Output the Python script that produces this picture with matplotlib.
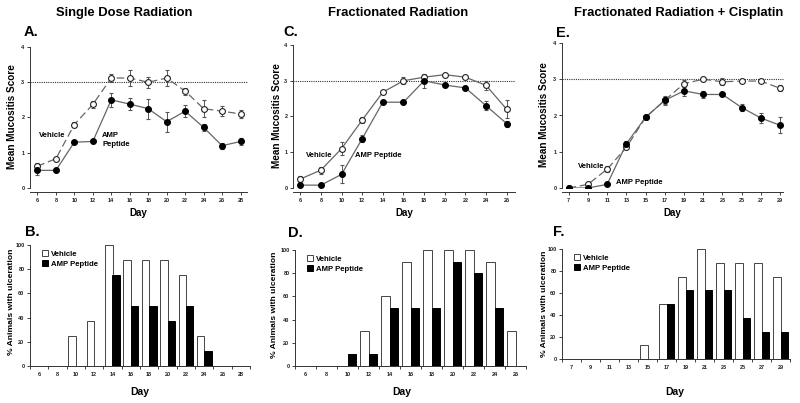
import matplotlib
matplotlib.use("Agg")
import matplotlib.pyplot as plt
import numpy as np

plt.rcParams['font.family'] = ['Liberation Sans', 'DejaVu Sans']
plt.rcParams['font.weight'] = 'bold'

# ---- data ----
days_a = [6, 8, 10, 12, 14, 16, 18, 20, 22, 24, 26, 28]
veh_a = [0.62, 0.83, 1.80, 2.37, 3.12, 3.12, 3.00, 3.12, 2.75, 2.25, 2.18, 2.10]
veh_a_err = [0.10, 0.05, 0.08, 0.10, 0.12, 0.22, 0.15, 0.22, 0.10, 0.25, 0.15, 0.12]
amp_a = [0.50, 0.50, 1.30, 1.32, 2.50, 2.38, 2.25, 1.88, 2.18, 1.72, 1.20, 1.32]
amp_a_err = [0.12, 0.05, 0.03, 0.03, 0.20, 0.18, 0.28, 0.28, 0.18, 0.10, 0.08, 0.10]

days_c = [6, 8, 10, 12, 14, 16, 18, 20, 22, 24, 26]
veh_c = [0.25, 0.50, 1.10, 1.90, 2.68, 3.00, 3.10, 3.17, 3.10, 2.87, 2.20]
veh_c_err = [0.08, 0.10, 0.18, 0.08, 0.05, 0.10, 0.05, 0.05, 0.03, 0.12, 0.25]
amp_c = [0.08, 0.08, 0.38, 1.38, 2.40, 2.40, 3.00, 2.88, 2.80, 2.30, 1.80]
amp_c_err = [0.03, 0.03, 0.25, 0.10, 0.05, 0.05, 0.20, 0.05, 0.05, 0.12, 0.08]

days_e = [7, 9, 11, 13, 15, 17, 19, 21, 23, 25, 27, 29]
veh_e = [0.00, 0.10, 0.52, 1.12, 1.95, 2.42, 2.88, 3.00, 2.93, 2.95, 2.95, 2.75]
veh_e_err = [0.02, 0.03, 0.08, 0.05, 0.03, 0.12, 0.10, 0.03, 0.10, 0.03, 0.03, 0.08]
amp_e = [0.00, 0.00, 0.10, 1.22, 1.95, 2.42, 2.68, 2.58, 2.58, 2.22, 1.93, 1.73]
amp_e_err = [0.00, 0.00, 0.02, 0.08, 0.03, 0.10, 0.15, 0.10, 0.05, 0.10, 0.15, 0.22]

ulc_veh_b = [0, 0, 25, 37.5, 100, 87.5, 87.5, 87.5, 75, 25, 0, 0]
ulc_amp_b = [0, 0, 0, 0, 75, 50, 50, 37.5, 50, 12.5, 0, 0]

ulc_veh_d = [0, 0, 0, 30, 60, 90, 100, 100, 100, 90, 30]
ulc_amp_d = [0, 0, 10, 10, 50, 50, 50, 90, 80, 50, 0]

ulc_veh_f = [0, 0, 0, 0, 12.5, 50, 75, 100, 87.5, 87.5, 87.5, 75]
ulc_amp_f = [0, 0, 0, 0, 0, 50, 62.5, 62.5, 62.5, 37.5, 25, 25]

titles = ["Single Dose Radiation", "Fractionated Radiation",
          "Fractionated Radiation + Cisplatin"]

W, H = 800, 403
fig = plt.figure(figsize=(W / 100, H / 100), dpi=100)
fig.set_facecolor('white')


def px_axes(left, top, right, bottom):
    return fig.add_axes([left / W, 1 - bottom / H, (right - left) / W, (bottom - top) / H])


def ylabel_px(x, y, s, size):
    fig.text(x / W, 1 - y / H, s, fontsize=size, fontweight='bold', rotation=90,
             ha='center', va='center')


def style(ax):
    for s in ['top', 'right']:
        ax.spines[s].set_visible(False)
    for s in ['left', 'bottom']:
        ax.spines[s].set_linewidth(0.7)
        ax.spines[s].set_color('#333333')
    ax.tick_params(labelsize=4, length=2, width=0.6, pad=2, colors='#222222')


def line_panel(ax, days, veh, veh_err, amp, amp_err, xlim, veh_ls):
    style(ax)
    ax.spines['bottom'].set_position(('outward', 3))
    ax.axhline(3.0, color='#333333', lw=0.8, ls=(0, (1, 1)), clip_on=False)
    ax.errorbar(days, veh, yerr=veh_err, color='#666666', ls=veh_ls, lw=0.9,
                marker='o', ms=4.2, mfc='white', mec='#222222', mew=0.8,
                ecolor='#555555', elinewidth=0.7, capsize=1.5, zorder=3)
    ax.errorbar(days, amp, yerr=amp_err, color='#666666', ls='-', lw=0.9,
                marker='o', ms=4.2, mfc='black', mec='black', mew=0.8,
                ecolor='#555555', elinewidth=0.7, capsize=1.5, zorder=3)
    ax.set_xlim(*xlim)
    ax.set_ylim(0, 4)
    ax.set_yticks([0, 1, 2, 3, 4])
    ax.set_xticks(days)
    ax.set_xlabel("Day", fontsize=7, fontweight='bold', labelpad=4)


def bar_panel(ax, centers, veh, amp, xlim):
    style(ax)
    w = 0.8
    c = np.array(centers)
    ax.bar(c - w / 2, veh, width=w, color='white', edgecolor='#444444', lw=0.7,
           label='Vehicle')
    ax.bar(c + w / 2, amp, width=w, color='black', edgecolor='black', lw=0.7,
           label='AMP Peptide')
    ax.set_xlim(*xlim)
    ax.set_ylim(0, 100)
    ax.set_yticks([0, 20, 40, 60, 80, 100])
    ax.set_xticks(np.arange(xlim[0], xlim[1] + 0.1, 2))
    ax.set_xticklabels([])
    ax.set_xticks(centers, minor=True)
    ax.set_xticklabels([str(d) for d in centers], minor=True)
    ax.tick_params(axis='x', which='minor', length=0, labelsize=4, pad=4, colors='#222222')
    leg = ax.legend(loc='upper left', bbox_to_anchor=(0.03, 1.0), frameon=False,
                    fontsize=5.6, handlelength=0.75, handleheight=0.75,
                    handletextpad=0.4, labelspacing=0.25, borderaxespad=0.3)
    for t in leg.get_texts():
        t.set_fontweight('bold')


# ---- top row ----
ax_a = px_axes(30, 47, 247, 188)
line_panel(ax_a, days_a, veh_a, veh_a_err, amp_a, amp_a_err, (5.2, 28.7), (0, (6, 3)))
ax_a.text(7.6, 1.5, "Vehicle", fontsize=5.5, fontweight='bold', ha='center', va='center')
ax_a.text(13.0, 1.36, "AMP\nPeptide", fontsize=5.5, fontweight='bold', ha='left', va='center',
          linespacing=1.3)
ylabel_px(12, 117, "Mean Mucositis Score", 7.2)

ax_c = px_axes(293, 45, 515, 188)
line_panel(ax_c, days_c, veh_c, veh_c_err, amp_c, amp_c_err, (5.3, 26.8), '-')
ax_c.text(7.8, 0.9, "Vehicle", fontsize=5.5, fontweight='bold', ha='center', va='center')
ax_c.text(11.3, 0.9, "AMP Peptide", fontsize=5.5, fontweight='bold', ha='left', va='center')
ylabel_px(277, 116, "Mean Mucositis Score", 7.2)

ax_e = px_axes(562, 43, 783, 188)
line_panel(ax_e, days_e, veh_e, veh_e_err, amp_e, amp_e_err, (6.3, 29.3), (0, (6, 3)))
ax_e.text(9.3, 0.6, "Vehicle", fontsize=5.5, fontweight='bold', ha='center', va='center')
ax_e.text(11.9, 0.14, "AMP Peptide", fontsize=5.5, fontweight='bold', ha='left', va='center')
ylabel_px(544, 115, "Mean Mucositis Score", 7.2)

# ---- bottom row ----
ax_b = px_axes(30, 245, 250, 366)
bar_panel(ax_b, days_a, ulc_veh_b, ulc_amp_b, (5, 29))
ylabel_px(12, 302, "% Animals with ulceration", 6.1)

ax_d = px_axes(295, 250, 526, 366)
bar_panel(ax_d, days_c, ulc_veh_d, ulc_amp_d, (5, 27))
ylabel_px(274, 305, "% Animals with ulceration", 6.1)

ax_f = px_axes(562, 249, 790, 359)
bar_panel(ax_f, days_e, ulc_veh_f, ulc_amp_f, (6, 30))
ylabel_px(545, 304, "% Animals with ulceration", 6.1)

for x in [140, 402, 675]:
    fig.text(x / W, 1 - 392 / H, "Day", fontsize=7.5, fontweight='bold', ha='center', va='center')

# ---- titles and panel letters ----
for x, t in zip([124, 398, 679], titles):
    fig.text(x / W, 1 - 13 / H, t, fontsize=9.4, fontweight='bold', ha='center', va='center')

for x, y, s in [(24, 32, "A."), (283, 32, "C."), (556, 33, "E."),
                (25, 232, "B."), (288, 233, "D."), (553, 232, "F.")]:
    fig.text(x / W, 1 - y / H, s, fontsize=10.5, fontweight='bold', ha='left', va='center')

fig.savefig("out.png", dpi=100, facecolor='white')
